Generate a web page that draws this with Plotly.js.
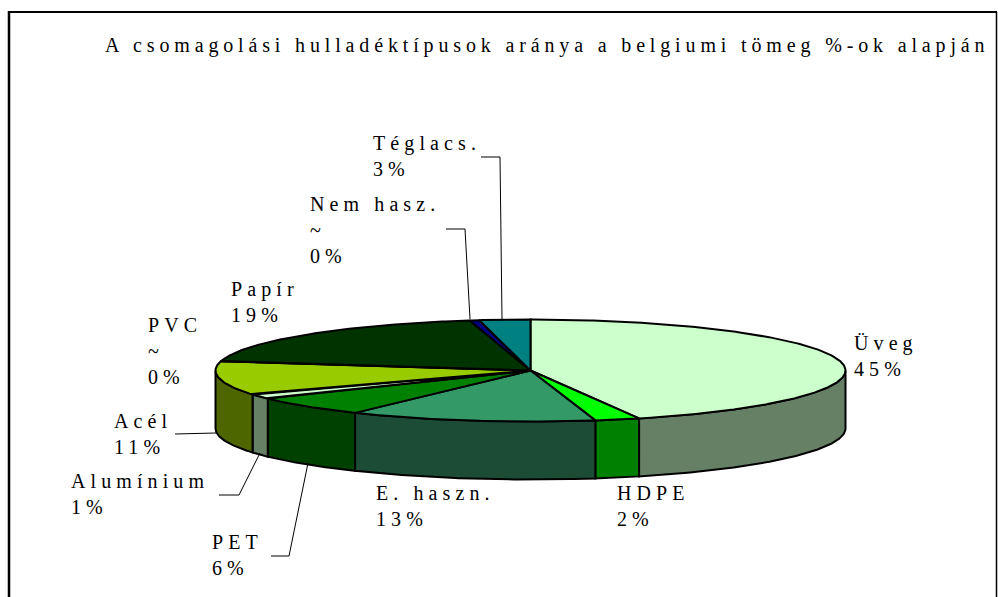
<!DOCTYPE html>
<html><head><meta charset="utf-8">
<script src="https://cdn.plot.ly/plotly-3.0.1.min.js"></script>
<style>
html,body{margin:0;padding:0;background:#fff;overflow:hidden}
#c{width:998px;height:597px}
.annotation-text{letter-spacing:5.1px}
.annotation:last-child .annotation-text{letter-spacing:4.85px}
</style></head><body><div id="c"></div>
<script>
const categories=['Üveg','HDPE','E. haszn.','PET','Alumínium','Acél','PVC','Papír','Nem hasz.','Téglacs.'];
const shares=[44.4,2.3,12.7,6.3,1.5,10.7,0.1,18.9,0.5,2.6];
const shownLabels=['Üveg<br>45%','HDPE<br>2%','E. haszn.<br>13%','PET<br>6%','Alumínium<br>1%','Acél<br>11%','PVC<br>~<br>0%','Papír<br>19%','Nem hasz.<br>~<br>0%','Téglacs.<br>3%'];
const topColors=['#CCFFCC','#00FF00','#339966','#008000','#CCFFCC','#99CC00','#FFFFFF','#003300','#000080','#008080'];
const sideColors=['#668066','#008000','#1C4C36','#004000','#668066','#4D6600','#808080','#001A00','#000040','#004040'];
const titleText='A csomagolási hulladéktípusok aránya a belgiumi tömeg %-ok alapján';

const cx=530.5,cy=370.5,rx=315,ry=51,depth=58;
const labelPos=[[853,331],[616,481],[375,481],[211,530],[70,469],[113,409],[147,313],[230,277],[309,192],[372,131]];
const leaders=[
 {x:[481,500,502],y:[157,157,319]},
 {x:[446,465,470],y:[229,229,319]},
 {x:[175,216],y:[434,433]},
 {x:[219,239,260],y:[495,495,453]},
 {x:[271,289,308],y:[556,556,463]}
];
const total=shares.reduce((a,b)=>a+b,0);
const rad=p=>p/total*2*Math.PI;
const ptx=t=>cx+rx*Math.sin(t), pty=t=>cy-ry*Math.cos(t);
function arc(t0,t1){const n=Math.max(2,Math.ceil((t1-t0)/0.01));const xs=[],ys=[];
 for(let i=0;i<=n;i++){const t=t0+(t1-t0)*i/n;xs.push(ptx(t));ys.push(pty(t));}return{xs,ys};}
const walls=[],tops=[];let acc=0;
shares.forEach((v,i)=>{
 const t0=rad(acc),t1=rad(acc+v);acc+=v;
 const a=arc(t0,t1);
 tops.push({type:'scatter',mode:'lines',x:[cx,...a.xs,cx],y:[cy,...a.ys,cy],fill:'toself',fillcolor:topColors[i],
  line:{color:'#000',width:2},hoverinfo:'text',text:categories[i],showlegend:false});
 const w0=Math.max(t0,Math.PI/2),w1=Math.min(t1,1.5*Math.PI);
 if(w1>w0){const b=arc(w0,w1);
  walls.push({type:'scatter',mode:'lines',x:[...b.xs,...b.xs.slice().reverse(),b.xs[0]],
   y:[...b.ys,...b.ys.slice().reverse().map(y=>y+depth),b.ys[0]],fill:'toself',fillcolor:sideColors[i],
   line:{color:'#000',width:2},hoverinfo:'text',text:categories[i],showlegend:false});}
});
const leaderTraces=leaders.map(l=>({type:'scatter',mode:'lines',x:l.x,y:l.y,line:{color:'#000',width:1},hoverinfo:'skip',showlegend:false}));
const font={family:'"Liberation Serif",serif',size:20,color:'#000'};
const anns=shownLabels.map((t,i)=>({xref:'x',yref:'y',x:labelPos[i][0],y:labelPos[i][1],text:t,showarrow:false,xanchor:'left',yanchor:'top',align:'left',font,borderpad:0}));
anns.push({xref:'x',yref:'y',x:104,y:33,text:titleText,showarrow:false,xanchor:'left',yanchor:'top',align:'left',font,borderpad:0,captureevents:false});
const seg=(x0,y0,x1,y1,w)=>({type:'line',xref:'x',yref:'y',x0,y0,x1,y1,line:{color:'#000',width:w},layer:'above'});
Plotly.newPlot('c',[...walls,...tops,...leaderTraces],{
 width:998,height:597,margin:{l:0,r:0,t:0,b:0},paper_bgcolor:'#fff',plot_bgcolor:'#fff',showlegend:false,
 xaxis:{range:[0,998],visible:false,fixedrange:true},yaxis:{range:[597,0],visible:false,fixedrange:true},annotations:anns,
 shapes:[seg(9,11,9,597,2.5),seg(8,12,997,12,2),seg(996.5,12,996.5,597,1.5)]
},{displayModeBar:false});
</script></body></html>
